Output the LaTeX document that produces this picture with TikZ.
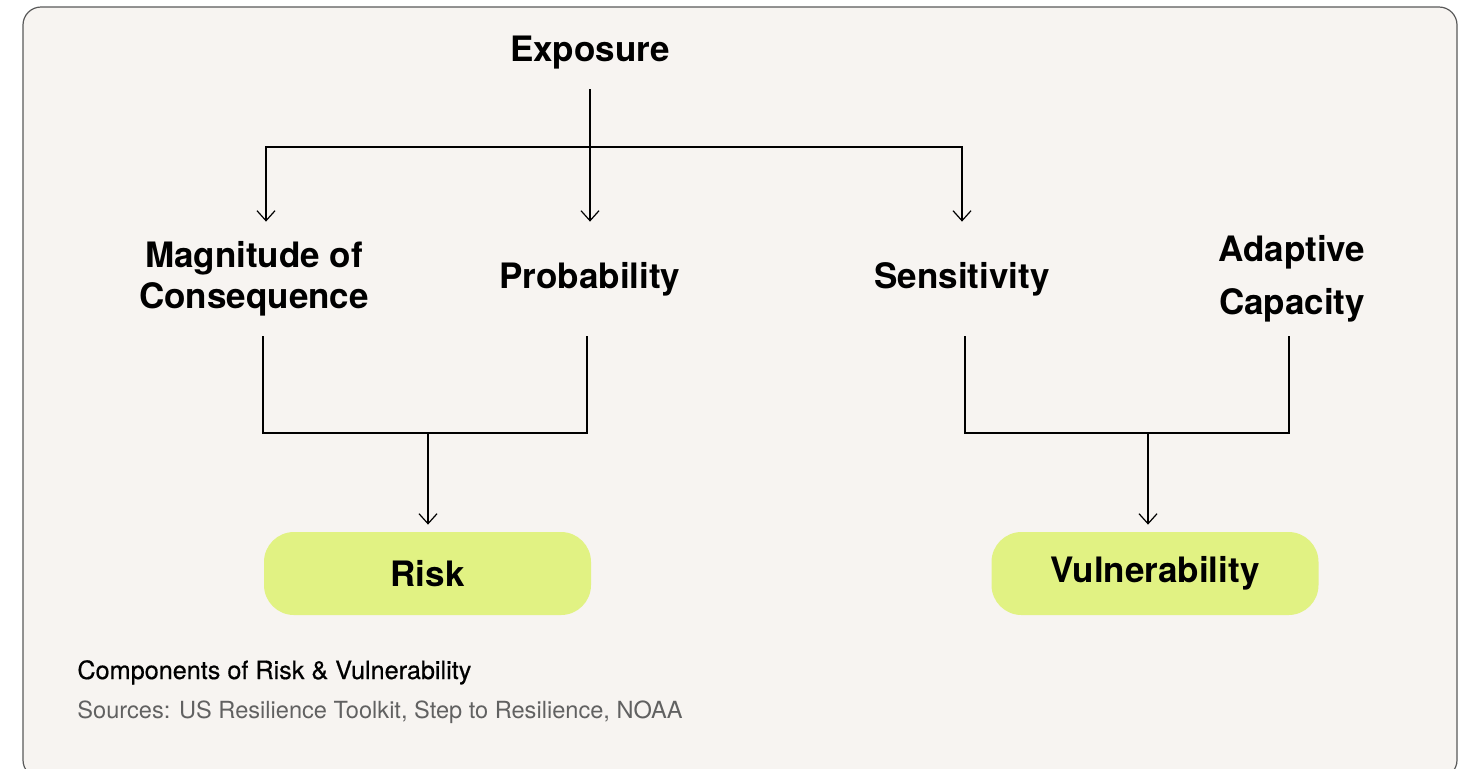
\documentclass[tikz,border=0pt]{standalone}
\usepackage{fontspec}
\setmainfont{TeX Gyre Heros}
\usetikzlibrary{arrows.meta}

\definecolor{paper}{HTML}{F7F4F1}
\definecolor{lime}{HTML}{E1F283}
\definecolor{rim}{HTML}{5A5A5A}

\begin{document}
\begin{tikzpicture}[x=0.5pt,y=-0.5pt,
    arr/.style={-{Straight Barb[length=5pt,width=9pt]}, line width=0.6pt},
    link/.style={line width=0.6pt},
    lbl/.style={font=\bfseries\fontsize{17.5}{20.5}\selectfont, align=center, minimum height=57pt, inner sep=0pt},
    goal/.style={fill=lime, rounded corners=15pt, minimum width=163.5pt, minimum height=41.5pt,
                 font=\bfseries\fontsize{17.5}{21}\selectfont}
  ]

    % Canvas
    \useasboundingbox (0,0) rectangle (1476,768);
    \fill[white] (0,0) rectangle (1476,768);
    \draw[rim, fill=paper, line width=0.6pt, rounded corners=9pt] (23,7) rectangle (1457,778);

    % Top level
    \node[lbl, minimum height=36pt] (expo) at (590,53) {Exposure};

    % Middle level
    \node[lbl] (mag) at (254,279) {Magnitude of\\Consequence};
    \node[lbl] (prob) at (590,279) {Probability};
    \node[lbl] (sens) at (962,279) {Sensitivity};
    \node[lbl, font=\bfseries\fontsize{17.5}{26.5}\selectfont] (adap) at (1292,279) {Adaptive\\Capacity};

    % Results
    \node[goal] (risk) at (427.5,573.5) {Risk};
    \node[goal] (vul) at (1155,573.5) {Vulnerability};

    % Exposure arrows
    \coordinate (split) at (590,147);
    \draw[arr] (expo.south) -- (prob.north);
    \draw[arr] (split) -| ([xshift=6pt]mag.north);
    \draw[arr] (split) -| (sens.north);

    % Risk branch
    \coordinate (riskjoin) at (428,433);
    \draw[link] ([xshift=4.5pt]mag.south) -- ([xshift=4.5pt]mag.south |- riskjoin) -| ([xshift=-1.5pt]prob.south);
    \draw[arr, shorten >=3.5pt] (riskjoin) -- (riskjoin |- risk.north);

    % Vulnerability branch
    \coordinate (vuljoin) at (1148,433);
    \draw[link] ([xshift=1.5pt]sens.south) -- ([xshift=1.5pt]sens.south |- vuljoin) -| ([xshift=-1.5pt]adap.south);
    \draw[arr, shorten >=3.5pt] (vuljoin) -- (vuljoin |- vul.north);

    % Caption
    \node[anchor=base west, inner sep=0pt, font=\fontsize{12.6}{15}\selectfont\addfontfeature{FakeBold=0.5}] (title) at (77,679) {Components of Risk \& Vulnerability};
    \node[anchor=base west, inner sep=0pt, text=black!62, font=\fontsize{11.8}{14}\selectfont] (src) at (77,718) {Sources: US Resilience Toolkit, Step to Resilience, NOAA};

\end{tikzpicture}
\end{document}
